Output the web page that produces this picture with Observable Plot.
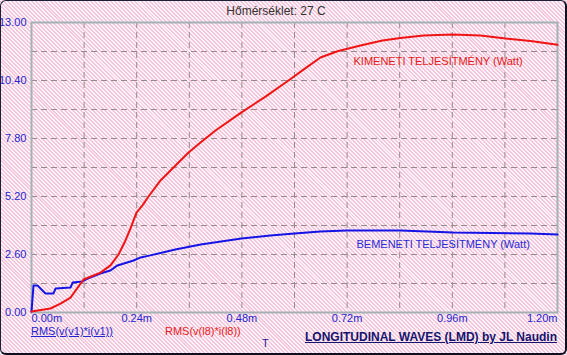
<!DOCTYPE html>
<html>
<head>
<meta charset="utf-8">
<script src="https://cdn.jsdelivr.net/npm/d3@7"></script>
<script src="https://cdn.jsdelivr.net/npm/@observablehq/plot@0.6"></script>
<style>
  html, body { margin: 0; padding: 0; background: #ffffff; }
  #wrap {
    position: relative; width: 567px; height: 355px; overflow: hidden;
    background: repeating-linear-gradient(45deg, #f5c6db 0px, #f5c6db 1.4px, #fff4f9 1.4px, #fff4f9 2.8px);
    font-family: "Liberation Sans", Arial, sans-serif;
  }
  #frame {
    position: absolute; left: 0; top: 0; width: 567px; height: 355px; box-sizing: border-box;
    border-top: 1px solid #1a2038; border-left: 1px solid #1a2038;
    border-right: 2px solid #0c1020; border-bottom: 2px solid #0c1020;
    border-radius: 6px; pointer-events: none;
  }
  .lbl { position: absolute; white-space: nowrap; line-height: 1; }
</style>
</head>
<body>
<div id="wrap"></div>
<script>
// ---- data (time in ms, power in Watt) ----
const redT = [0, 0.0433, 0.0662, 0.089, 0.1186, 0.1574, 0.1802, 0.1985, 0.2144, 0.2259, 0.2395, 0.2532, 0.2669, 0.2943, 0.3285, 0.3582, 0.3856, 0.4198, 0.4791, 0.5339, 0.5863, 0.6228, 0.6593, 0.6981, 0.7506, 0.8008, 0.8418, 0.8943, 0.9605, 1.0244, 1.0814, 1.1384, 1.2];
const redW = [0.045, 0.18, 0.40, 0.67, 1.48, 1.79, 2.11, 2.60, 3.23, 3.77, 4.48, 4.80, 5.20, 5.92, 6.59, 7.17, 7.62, 8.16, 8.97, 9.68, 10.40, 10.92, 11.43, 11.71, 11.97, 12.19, 12.30, 12.42, 12.46, 12.42, 12.28, 12.17, 12.0];
const blueT = [0, 0.0046, 0.0137, 0.032, 0.050, 0.055, 0.089, 0.094, 0.116, 0.128, 0.157, 0.180, 0.196, 0.233, 0.249, 0.271, 0.328, 0.386, 0.479, 0.545, 0.600, 0.659, 0.719, 0.842, 0.963, 1.138, 1.2];
const blueW = [0.04, 1.21, 1.21, 0.85, 0.85, 1.08, 1.12, 1.34, 1.39, 1.52, 1.75, 1.88, 2.11, 2.33, 2.47, 2.56, 2.82, 3.05, 3.32, 3.45, 3.54, 3.63, 3.68, 3.68, 3.59, 3.54, 3.50];
const xTicks = [0, 0.24, 0.48, 0.72, 0.96, 1.2];
const xGrid = [0.12, 0.24, 0.36, 0.48, 0.6, 0.72, 0.84, 0.96, 1.08];
const yTicks = [0, 2.6, 5.2, 7.8, 10.4, 13];
const yGrid = [1.3, 2.6, 3.9, 5.2, 6.5, 7.8, 9.1, 10.4, 11.7];
const titleText = "Hőmérséklet: 27 C";
const seriesIn = "RMS(v(v1)*i(v1))";
const seriesOut = "RMS(v(l8)*i(l8))";
const labelOut = "KIMENETI TELJESÍTMÉNY (Watt)";
const labelIn = "BEMENETI TELJESÍTMÉNY (Watt)";
const captionText = "LONGITUDINAL WAVES (LMD) by JL Naudin";

const red = redT.map((t, i) => ({t, w: redW[i]}));
const blue = blueT.map((t, i) => ({t, w: blueW[i]}));
const tickColor = "#2424d0";

const chart = Plot.plot({
  width: 567, height: 355,
  marginLeft: 31, marginRight: 10, marginTop: 22, marginBottom: 43,
  style: {background: "transparent", fontFamily: "'Liberation Sans', Arial, sans-serif", fontSize: "11px", overflow: "visible"},
  x: {domain: [0, 1.2], axis: null},
  y: {domain: [0, 13], axis: null},
  marks: [
    Plot.ruleX(xGrid, {x: d => d, stroke: "#968a8a", strokeWidth: 1, strokeDasharray: "6,4"}),
    Plot.ruleY(yGrid, {y: d => d, stroke: "#968a8a", strokeWidth: 1, strokeDasharray: "6,4"}),
    Plot.frame({stroke: "#a3b2b5", strokeWidth: 2}),
    Plot.text(yTicks, {y: d => d, frameAnchor: "left", dx: -5, textAnchor: "end", text: d => d.toFixed(2), fill: tickColor, fontSize: 11}),
    Plot.text(xTicks.filter((d, i) => i === 0), {x: d => d, frameAnchor: "bottom", dy: 2, lineAnchor: "top", textAnchor: "start", text: d => d.toFixed(2) + "m", fill: tickColor, fontSize: 11}),
    Plot.text(xTicks.filter((d, i) => i > 0 && i < xTicks.length - 1), {x: d => d, frameAnchor: "bottom", dy: 2, lineAnchor: "top", textAnchor: "middle", text: d => d.toFixed(2) + "m", fill: tickColor, fontSize: 11}),
    Plot.text(xTicks.filter((d, i) => i === xTicks.length - 1), {x: d => d, frameAnchor: "bottom", dy: 2, lineAnchor: "top", textAnchor: "end", text: d => d.toFixed(2) + "m", fill: tickColor, fontSize: 11}),
    Plot.line(blue, {x: "t", y: "w", stroke: "#1414e6", strokeWidth: 2}),
    Plot.line(red, {x: "t", y: "w", stroke: "#f01414", strokeWidth: 2}),
    Plot.text([labelOut], {x: 0.7346, y: 11.25, text: d => d, textAnchor: "start", fill: "#e41a1a", fontSize: 11}),
    Plot.text([labelIn], {x: 0.7414, y: 3.05, text: d => d, textAnchor: "start", fill: "#2a2ad8", fontSize: 11})
  ]
});

const wrap = document.getElementById("wrap");
chart.style.position = "absolute";
chart.style.left = "0px";
chart.style.top = "0px";
wrap.appendChild(chart);

function addLabel(text, css) {
  const s = document.createElement("div");
  s.className = "lbl";
  s.textContent = text;
  Object.assign(s.style, css);
  wrap.appendChild(s);
  return s;
}
addLabel(titleText, {left: "0px", width: "552px", textAlign: "center", top: "5px", fontSize: "12px", color: "#333333"});
addLabel(seriesIn, {left: "31px", top: "326px", fontSize: "11px", color: "#2424d0", textDecoration: "underline"});
addLabel(seriesOut, {left: "165px", top: "326px", fontSize: "11px", color: "#e81c1c"});
addLabel("T", {left: "262px", top: "338px", fontSize: "11px", color: "#1c1c9c"});
addLabel(captionText, {right: "10px", top: "331px", fontSize: "12px", fontWeight: "bold", color: "#14146e", textDecoration: "underline"});
const fr = document.createElement("div");
fr.id = "frame";
wrap.appendChild(fr);
</script>
</body>
</html>
